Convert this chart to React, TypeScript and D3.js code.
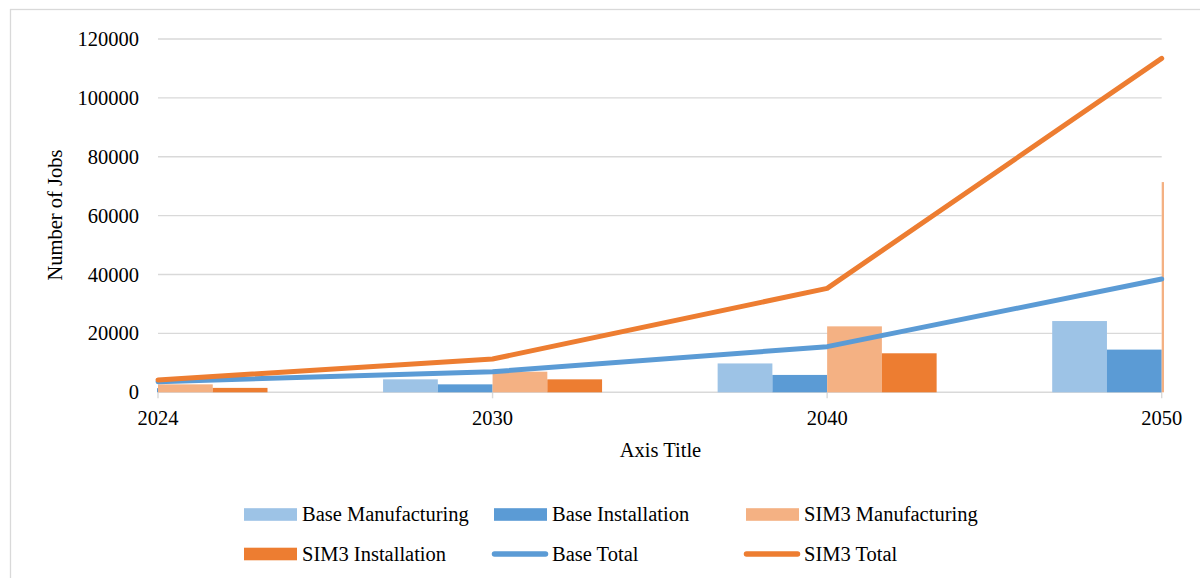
import React from "react";
import * as d3 from "d3";

// Categories and series (jobs)
const years = ["2024", "2030", "2040", "2050"];
const baseManufacturing = [2200, 4400, 9800, 24200];
const baseInstallation = [1400, 2700, 5900, 14500];
const sim3Manufacturing = [2700, 7000, 22400, 71400];
const sim3Installation = [1500, 4400, 13250, 42000];
const baseTotal = [3600, 7000, 15500, 38500];
const sim3Total = [4200, 11300, 35300, 113400];
const yTicks = [0, 20000, 40000, 60000, 80000, 100000, 120000];

const barSeries = [
  { name: "Base Manufacturing", values: baseManufacturing, color: "#9dc3e6" },
  { name: "Base Installation", values: baseInstallation, color: "#5b9bd5" },
  { name: "SIM3 Manufacturing", values: sim3Manufacturing, color: "#f4b183" },
  { name: "SIM3 Installation", values: sim3Installation, color: "#ed7d31" },
];
const lineSeries = [
  { name: "Base Total", values: baseTotal, color: "#5b9bd5" },
  { name: "SIM3 Total", values: sim3Total, color: "#ed7d31" },
];

const W = 1200;
const H = 578;
const left = 158;
const right = 1161.7;
const top = 39;
const bottom = 392.3;
const font = "'Liberation Serif', 'Times New Roman', serif";
const fs = 20.5;

export default function App() {
  const x = d3.scalePoint<string>().domain(years).range([left, right]);
  const y = d3.scaleLinear().domain([0, 120000]).range([bottom, top]);
  const groupHalf = 109.5;
  const inner = d3
    .scaleBand<string>()
    .domain(barSeries.map((s) => s.name))
    .range([-groupHalf, groupHalf])
    .padding(0);

  const line = d3
    .line<number>()
    .x((_, i) => x(years[i]) as number)
    .y((v) => y(v));

  const legendItems = [
    ...barSeries.map((s) => ({ ...s, kind: "bar" })),
    ...lineSeries.map((s) => ({ ...s, kind: "line" })),
  ];
  const colX = [244, 494, 746];
  const rowY = [514.5, 554];

  return (
    <svg
      width={W}
      height={H}
      style={{ position: "absolute", left: 0, top: 0, background: "#fff" }}
      fontFamily={font}
    >
      <defs>
        <clipPath id="plotClip">
          <rect x={157} y={0} width={1164 - 157} height={bottom + 1} />
        </clipPath>
      </defs>
      {/* chart frame */}
      <rect x={10.5} y={9.5} width={1300} height={700} fill="#fff" stroke="#d9d9d9" strokeWidth={1.3} />

      {/* gridlines */}
      {yTicks.map((t) => (
        <line key={t} x1={left} x2={right} y1={y(t)} y2={y(t)} stroke="#d9d9d9" strokeWidth={1.4} />
      ))}
      {/* category ticks */}
      {years.map((c) => (
        <line key={c} x1={x(c)} x2={x(c)} y1={bottom} y2={bottom + 6} stroke="#d9d9d9" strokeWidth={1.4} />
      ))}

      {/* bars */}
      <g clipPath="url(#plotClip)">
        {barSeries.map((s) =>
          s.values.map((v, i) => {
            const bx = (x(years[i]) as number) + (inner(s.name) as number);
            return (
              <rect
                key={s.name + i}
                x={bx}
                y={y(v)}
                width={inner.bandwidth()}
                height={bottom - y(v)}
                fill={s.color}
              />
            );
          })
        )}
      </g>

      {/* lines */}
      {lineSeries.map((s) => (
        <path
          key={s.name}
          d={line(s.values) as string}
          fill="none"
          stroke={s.color}
          strokeWidth={5}
          strokeLinejoin="round"
          strokeLinecap="round"
        />
      ))}

      {/* y tick labels */}
      {yTicks.map((t) => (
        <text key={t} x={139} y={y(t)} dy="0.34em" textAnchor="end" fontSize={fs} fill="#000">
          {t}
        </text>
      ))}
      {/* x tick labels */}
      {years.map((c) => (
        <text key={c} x={x(c)} y={418} dy="0.34em" textAnchor="middle" fontSize={fs} fill="#000">
          {c}
        </text>
      ))}

      {/* axis titles */}
      <text x={660.5} y={457} textAnchor="middle" fontSize={fs} fill="#000">
        Axis Title
      </text>
      <text
        transform={`translate(61.5, 215) rotate(-90)`}
        textAnchor="middle"
        fontSize={fs}
        fill="#000"
      >
        Number of Jobs
      </text>

      {/* legend */}
      {legendItems.map((it, k) => {
        const cx = colX[k % 3];
        const cy = rowY[Math.floor(k / 3)];
        return (
          <g key={it.name}>
            {it.kind === "bar" ? (
              <rect x={cx} y={cy - 6.3} width={53} height={12.6} fill={it.color} />
            ) : (
              <line
                x1={cx + 0.5}
                x2={cx + 51.5}
                y1={cy}
                y2={cy}
                stroke={it.color}
                strokeWidth={5.5}
                strokeLinecap="round"
              />
            )}
            <text x={cx + 58} y={cy} dy="0.34em" fontSize={fs} fill="#000">
              {it.name}
            </text>
          </g>
        );
      })}
    </svg>
  );
}
